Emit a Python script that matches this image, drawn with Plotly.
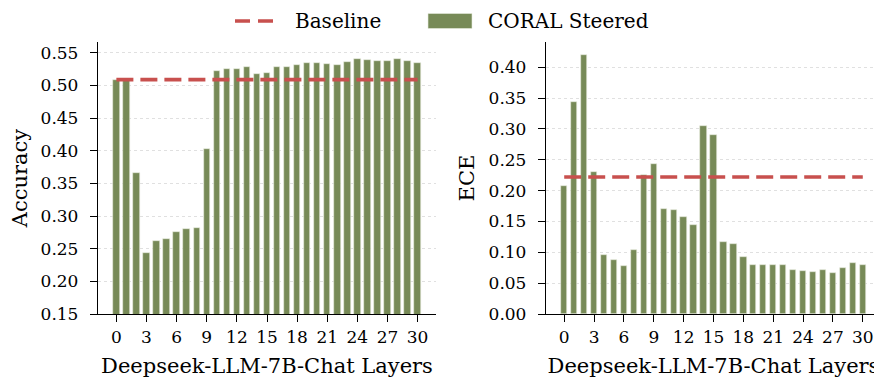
import plotly.graph_objects as go

layers = list(range(31))
accuracy = [0.508, 0.508, 0.366, 0.243, 0.262, 0.265, 0.275, 0.280, 0.281, 0.403,
            0.522, 0.525, 0.526, 0.528, 0.518, 0.519, 0.528, 0.529, 0.532, 0.534,
            0.534, 0.533, 0.532, 0.536, 0.540, 0.539, 0.538, 0.538, 0.540, 0.538, 0.534]
ece = [0.208, 0.343, 0.420, 0.231, 0.095, 0.088, 0.078, 0.104, 0.225, 0.244,
       0.171, 0.168, 0.158, 0.144, 0.305, 0.291, 0.117, 0.113, 0.092, 0.079,
       0.079, 0.080, 0.080, 0.072, 0.069, 0.068, 0.071, 0.067, 0.075, 0.082, 0.079]
baseline_acc = 0.509
baseline_ece = 0.222
x_ticks = list(range(0, 31, 3))
acc_ticks = [0.15, 0.20, 0.25, 0.30, 0.35, 0.40, 0.45, 0.50, 0.55]
ece_ticks = [0.00, 0.05, 0.10, 0.15, 0.20, 0.25, 0.30, 0.35, 0.40]
legend_labels = ["Baseline", "CORAL Steered"]

GREEN = "#778a57"
RED = "#c8504e"
FONT = "DejaVu Serif"

# page body has an 8px margin; size the figure to fit the window
W, H, OFF = 874, 370, 8


def dx(px):
    return (px - OFF) / W


def dy(py):
    return 1 - (py - OFF) / H


fig = go.Figure()

for i, (vals, base, xa, ya) in enumerate([(accuracy, baseline_acc, "x", "y"),
                                          (ece, baseline_ece, "x2", "y2")]):
    fig.add_trace(go.Bar(
        x=layers, y=vals, xaxis=xa, yaxis=ya, width=0.64,
        marker=dict(color=GREEN, line=dict(color="#e8ecdf", width=0.6)),
        name=legend_labels[1], showlegend=False,
    ))
    fig.add_trace(go.Scatter(
        x=layers, y=[base] * len(layers), xaxis=xa, yaxis=ya, mode="lines",
        line=dict(color=RED, width=3.6, dash="17px,7px"),
        name=legend_labels[0], showlegend=False,
    ))

axis_common = dict(
    showline=True, linecolor="black", linewidth=1.3,
    ticks="outside", ticklen=7, tickwidth=1.3, tickcolor="black",
    tickfont=dict(family=FONT, size=17, color="black"),
    zeroline=False, automargin=False,
)

xcommon = dict(axis_common, range=[-1.83, 31.83], tickvals=x_ticks, showgrid=False,
               title=dict(text="Deepseek-LLM-7B-Chat Layers",
                          font=dict(family=FONT, size=21, color="black"), standoff=14))
ycommon = dict(axis_common, showgrid=True, gridcolor="#e0e0e0", gridwidth=0.8, griddash="dot",
               ticklabelstandoff=8)

ydom = [dy(314), dy(42)]

LEG_Y = 21
# legend drawn at the top, centred above both panels
legend_shapes = [
    dict(type="line", xref="paper", yref="paper", x0=dx(235), x1=dx(273), y0=dy(LEG_Y), y1=dy(LEG_Y),
         line=dict(color=RED, width=3.6, dash="15px,8px")),
    dict(type="rect", xref="paper", yref="paper", x0=dx(428), x1=dx(472),
         y0=dy(LEG_Y + 7.5), y1=dy(LEG_Y - 7.5),
         fillcolor=GREEN, line=dict(color="#e8ecdf", width=0.6)),
]
legend_annots = [
    dict(text=legend_labels[0], xref="paper", yref="paper", x=dx(294), y=dy(LEG_Y),
         xanchor="left", yanchor="middle", showarrow=False, borderpad=0,
         font=dict(family=FONT, size=20, color="black")),
    dict(text=legend_labels[1], xref="paper", yref="paper", x=dx(487), y=dy(LEG_Y),
         xanchor="left", yanchor="middle", showarrow=False, borderpad=0,
         font=dict(family=FONT, size=20, color="black")),
]

fig.update_layout(
    width=W, height=H,
    margin=dict(l=0, r=0, t=0, b=0),
    paper_bgcolor="white", plot_bgcolor="white",
    bargap=0,
    showlegend=False,
    shapes=legend_shapes,
    annotations=legend_annots,
    xaxis=dict(xcommon, domain=[dx(98), dx(436)], anchor="y"),
    yaxis=dict(ycommon, domain=ydom, anchor="x", range=[0.15, 0.5667],
               tickvals=acc_ticks, tickformat=".2f",
               title=dict(text="Accuracy", font=dict(family=FONT, size=21, color="black"), standoff=8)),
    xaxis2=dict(xcommon, domain=[dx(546), dx(881)], anchor="y2"),
    yaxis2=dict(ycommon, domain=ydom, anchor="x2", range=[0, 0.441],
                tickvals=ece_ticks, tickformat=".2f",
                title=dict(text="ECE", font=dict(family=FONT, size=21, color="black"), standoff=8)),
)

fig.write_html("out.html")
